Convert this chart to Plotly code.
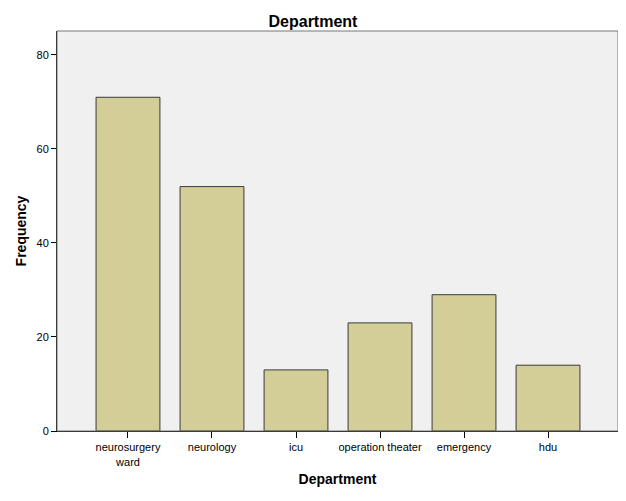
import plotly.graph_objects as go

categories = ["neurosurgery<br>ward", "neurology", "icu", "operation theater", "emergency", "hdu"]
frequency = [71, 52, 13, 23, 29, 14]
y_ticks = [0, 20, 40, 60, 80]

fig = go.Figure(go.Bar(
    x=list(range(len(categories))), y=frequency,
    marker=dict(color="#D3CE97", line=dict(color="#3a3a3a", width=1)),
    width=0.76,
))

fig.update_layout(
    width=618, height=493,
    margin=dict(l=49, r=8, t=23, b=70),
    paper_bgcolor="white", plot_bgcolor="#F0F0F0",
    font=dict(family="Liberation Sans, Arial", color="black", size=11),
    title=dict(text="<b>Department</b>", x=0.4935, xanchor="center", y=0.972, yanchor="middle",
               font=dict(size=16)),
    showlegend=False,
    shapes=[dict(type="rect", xref="paper", yref="paper", x0=0, y0=0, x1=1, y1=1,
                 line=dict(color="#777777", width=1), layer="above")],
)
fig.update_xaxes(
    range=[-0.845, 5.833], tickmode="array", tickvals=list(range(len(categories))),
    ticktext=categories, ticks="outside", ticklen=6, tickcolor="black",
    showgrid=False, zeroline=False, showline=True, linecolor="black", linewidth=1,
    title=dict(text="<b>Department</b>", font=dict(size=14), standoff=7),
)
fig.update_yaxes(
    range=[0, 85.1], tickvals=y_ticks, ticks="outside", ticklen=5, tickcolor="black",
    showgrid=False, zeroline=False, showline=True, linecolor="black", linewidth=1,
    title=dict(text="<b>Frequency</b>", font=dict(size=14), standoff=6),
)

fig.write_html("out.html")
